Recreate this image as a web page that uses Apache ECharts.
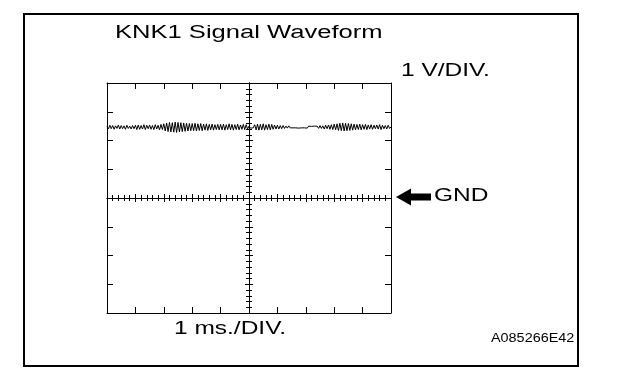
<!DOCTYPE html>
<html>
<head>
<meta charset="utf-8">
<script src="https://cdn.jsdelivr.net/npm/echarts@6/dist/echarts.min.js"></script>
<style>
  html, body { margin: 0; padding: 0; background: #fff; }
  #chart { width: 624px; height: 378px; }
</style>
</head>
<body>
<div id="chart"></div>
<script>
// scope screen: 10 div across (time), 8 div up (volts), GND at the centre
const timeRange = [-5, 5]
const voltRange = [-4, 4]
const timeStep = 0.05 // div between samples

// KNK1 trace, volts, one division at a time
const waveVolts = [
  2.50, 2.40, 2.53, 2.41, 2.52, 2.39, 2.51, 2.42, 2.54, 2.40, 2.52, 2.41, 2.51, 2.39, 2.53, 2.42, 2.50, 2.40, 2.52, 2.41,
  2.53, 2.38, 2.54, 2.39, 2.52, 2.40, 2.55, 2.38, 2.53, 2.41, 2.54, 2.39, 2.52, 2.38, 2.55, 2.40, 2.53, 2.37, 2.56, 2.38,
  2.58, 2.33, 2.61, 2.31, 2.63, 2.30, 2.62, 2.29, 2.64, 2.28, 2.63, 2.30, 2.62, 2.31, 2.61, 2.32, 2.60, 2.33, 2.59, 2.34,
  2.59, 2.34, 2.60, 2.33, 2.58, 2.35, 2.59, 2.34, 2.57, 2.36, 2.58, 2.35, 2.56, 2.37, 2.57, 2.36, 2.55, 2.38, 2.56, 2.37,
  2.56, 2.37, 2.57, 2.36, 2.55, 2.38, 2.58, 2.37, 2.56, 2.36, 2.55, 2.38, 2.57, 2.37, 2.54, 2.39, 2.56, 2.38, 2.55, 2.40,
  2.50, 2.43, 2.49, 2.44, 2.55, 2.37, 2.57, 2.36, 2.56, 2.37, 2.58, 2.36, 2.55, 2.38, 2.57, 2.37, 2.56, 2.39, 2.54, 2.40,
  2.53, 2.40, 2.52, 2.41, 2.52, 2.42, 2.50, 2.43, 2.51, 2.44, 2.50, 2.44, 2.49, 2.44, 2.50, 2.43, 2.49, 2.44, 2.50, 2.44,
  2.49, 2.43, 2.50, 2.44, 2.49, 2.43, 2.50, 2.44, 2.50, 2.42, 2.52, 2.42, 2.51, 2.40, 2.53, 2.41, 2.54, 2.39, 2.55, 2.38,
  2.57, 2.37, 2.58, 2.35, 2.60, 2.34, 2.61, 2.33, 2.60, 2.34, 2.59, 2.35, 2.58, 2.36, 2.57, 2.37, 2.56, 2.38, 2.57, 2.37,
  2.55, 2.39, 2.56, 2.38, 2.54, 2.40, 2.55, 2.39, 2.53, 2.41, 2.54, 2.40, 2.55, 2.38, 2.53, 2.41, 2.52, 2.40, 2.53, 2.42,
  2.47
]

const titleText = 'KNK1 Signal Waveform'
const voltText = '1 V/DIV.'
const timeText = '1 ms./DIV.'
const gndText = 'GND'
const figId = 'A085266E42'

const FONT = '"Liberation Sans", Arial, sans-serif'
const INK = '#000'

const chart = echarts.init(document.getElementById('chart'), null, { renderer: 'canvas' })

// outer frame axes: ticks on the inside at every division
const frameAxis = (range, position) => ({
  type: 'value',
  position: position,
  min: range[0],
  max: range[1],
  interval: 1,
  axisLine: { show: true, onZero: false, lineStyle: { color: INK, width: 1 } },
  axisTick: { show: true, inside: true, length: 6, lineStyle: { color: INK, width: 1 } },
  minorTick: { show: false },
  axisLabel: { show: false },
  splitLine: { show: false }
})

// centre cross: two axes on the same line, one ticking each way
const centreAxis = (range, position, zeroIdx, inside) => ({
  type: 'value',
  position: position,
  min: range[0],
  max: range[1],
  interval: 1,
  axisLine: { show: true, onZero: true, onZeroAxisIndex: zeroIdx, lineStyle: { color: INK, width: 1 } },
  axisTick: { show: true, inside: inside, length: 4, lineStyle: { color: INK, width: 1 } },
  minorTick: { show: true, splitNumber: 5, length: 3, lineStyle: { color: INK, width: 1 } },
  axisLabel: { show: false },
  splitLine: { show: false }
})

const text = (str, x, y, size, sx, align) => ({
  type: 'text',
  x: x,
  y: y,
  scaleX: sx,
  style: {
    text: str,
    font: size + 'px ' + FONT,
    fill: INK,
    align: align || 'left',
    verticalAlign: 'middle'
  }
})

const option = {
  animation: false,
  backgroundColor: '#fff',
  grid: { left: 107, top: 83, width: 284, height: 230, show: false },
  xAxis: [
    frameAxis(timeRange, 'bottom'),
    frameAxis(timeRange, 'top'),
    centreAxis(timeRange, 'bottom', 2, false),
    centreAxis(timeRange, 'bottom', 3, true)
  ],
  yAxis: [
    frameAxis(voltRange, 'left'),
    frameAxis(voltRange, 'right'),
    centreAxis(voltRange, 'left', 2, false),
    centreAxis(voltRange, 'left', 3, true)
  ],
  series: [
    {
      type: 'line',
      xAxisIndex: 2,
      yAxisIndex: 2,
      showSymbol: false,
      silent: true,
      lineStyle: { color: INK, width: 1 },
      data: waveVolts.map((v, i) => [timeRange[0] + i * timeStep, v])
    }
  ],
  graphic: [
    {
      type: 'rect',
      shape: { x: 24, y: 14, width: 554, height: 352 },
      style: { fill: null, stroke: INK, lineWidth: 2 }
    },
    text(titleText, 115, 33, 18, 1.42),
    text(voltText, 401, 71.5, 18, 1.36),
    text(gndText, 434, 196.5, 18, 1.36),
    text(timeText, 174, 329, 18, 1.36),
    text(figId, 491, 338.5, 12, 1.2),
    {
      // GND marker arrow
      type: 'polygon',
      shape: {
        points: [[396, 197], [411, 188.5], [411, 193.5], [431, 193.5], [431, 200.5], [411, 200.5], [411, 205.5]]
      },
      style: { fill: INK }
    }
  ]
}

chart.setOption(option)
</script>
</body>
</html>
